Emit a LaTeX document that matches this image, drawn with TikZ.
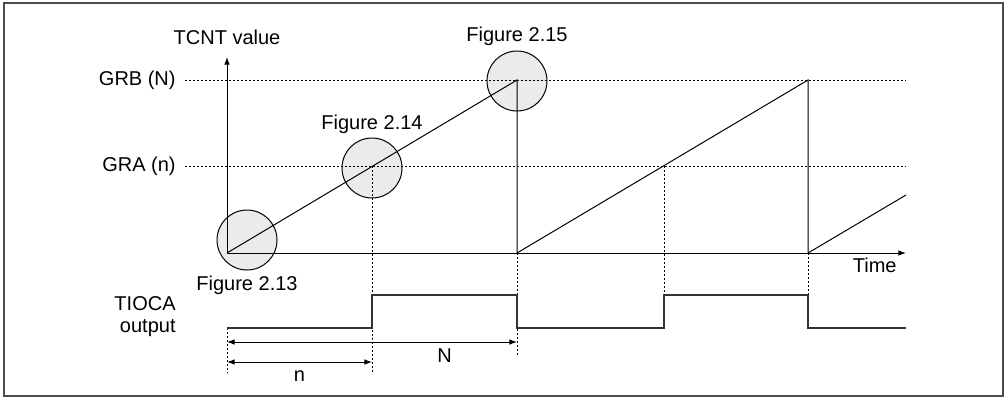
\documentclass[tikz,border=0pt]{standalone}
\usepackage{fontspec}
\setmainfont{Liberation Sans}
\usetikzlibrary{arrows.meta,positioning}

\begin{document}
\begin{tikzpicture}[x=0.5pt, y=-0.5pt,
    lbl/.style={font=\fontsize{10}{11}\selectfont, inner sep=0pt},
    arr/.style={-{Latex[length=3.8pt,width=2.8pt]}, line width=0.5pt},
    dim/.style={{Latex[length=3.8pt,width=2.8pt]}-{Latex[length=3.8pt,width=2.8pt]}, line width=0.5pt},
    dots/.style={dash pattern=on 1.2pt off 0.8pt, line width=0.5pt},
    ramp/.style={line width=0.5pt},
    wave/.style={line width=0.7pt, black!80},
    zoomc/.style={circle, draw, line width=0.5pt, fill=black!8, minimum size=30pt, inner sep=0pt}]
  \useasboundingbox (0,0) rectangle (1006,398);
  \draw[black!70, line width=0.6pt] (4,3) rectangle (1003,396);

  % time marks and levels
  \coordinate (t0) at (227,0);
  \coordinate (tA1) at (372,0);
  \coordinate (tB1) at (517,0);
  \coordinate (tA2) at (664,0);
  \coordinate (tB2) at (808,0);
  \coordinate (tend) at (906,0);
  \coordinate (yB) at (0,80);
  \coordinate (yA) at (0,166);
  \coordinate (O) at (227,253);
  \coordinate (ytop) at (227,57);
  \coordinate (xend) at (906,253);
  \coordinate (hi) at (0,295);
  \coordinate (lo) at (0,328);
  \coordinate (gb0) at (185,80);
  \coordinate (ga0) at (185,166);

  % zoom circles
  \node[zoomc] (c13) at (247,240) {};
  \node[zoomc] (c14) at (372,168) {};
  \node[zoomc] (c15) at (517,81) {};
  \node[lbl, below=2.5pt of c13] (f13) {Figure 2.13};
  \node[lbl, above=1.5pt of c14] (f14) {Figure 2.14};
  \node[lbl, above=2pt of c15] (f15) {Figure 2.15};

  % axes
  \draw[arr] (O) -- (ytop);
  \draw[arr] (O) -- (xend);
  \node[lbl, above=6pt of ytop] (tcnt) {TCNT value};
  \node[lbl, below left=2.5pt and 4.5pt of xend] (time) {Time};

  % compare levels
  \draw[dots] (gb0) -- (tend |- yB);
  \draw[dots] (ga0) -- (tend |- yA);
  \node[lbl, left=4.5pt of gb0] (grb) {GRB (N)};
  \node[lbl, left=4.5pt of ga0] (gra) {GRA (n)};

  % counter
  \draw[ramp] (O) -- (tB1 |- yB) -- (tB1 |- O) -- (tB2 |- yB) -- (tB2 |- O) -- (906,195);

  % match marks
  \draw[dots] (tA1 |- yA) -- (372,373);
  \draw[dots] (tB1 |- O) -- (517,355);
  \draw[dots] (tA2 |- yA) -- (tA2 |- hi);
  \draw[dots] (tB2 |- O) -- (tB2 |- hi);
  \draw[dots] (t0 |- lo) -- (227,373);

  % output
  \draw[wave] (t0 |- lo) -- (tA1 |- lo) -- (tA1 |- hi) -- (tB1 |- hi) -- (tB1 |- lo)
    -- (tA2 |- lo) -- (tA2 |- hi) -- (tB2 |- hi) -- (tB2 |- lo) -- (tend |- lo);
  \node[lbl, align=right, anchor=east] (tioca) at (176,317) {TIOCA\\output};

  % periods
  \draw[dim] (227,342) -- node[lbl, pos=0.75, below=3pt] (nbig) {N} (517,342);
  \draw[dim] (227,362) -- node[lbl, below=4pt] (nsmall) {n} (372,362);
\end{tikzpicture}
\end{document}
